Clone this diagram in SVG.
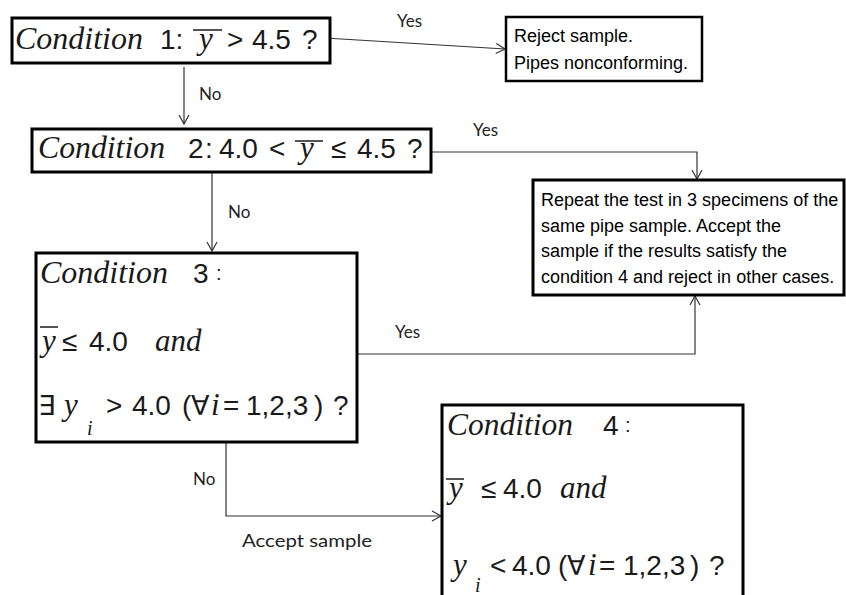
<svg xmlns="http://www.w3.org/2000/svg" width="846" height="595" viewBox="0 0 846 595">
<defs>
<style>
.box{fill:#fff;stroke:#000;stroke-width:3}
.ser{font-family:"Liberation Serif","DejaVu Serif",serif;font-style:italic;font-size:31px;fill:#1a1a1a}
.num{font-family:"Liberation Sans",Arial,sans-serif;font-size:28px;fill:#1a1a1a}
.sym{font-family:"DejaVu Sans","Liberation Sans",sans-serif;font-size:27px;fill:#1a1a1a}
.sub{font-family:"Liberation Serif",serif;font-style:italic;font-size:20px;fill:#1a1a1a}
.col{font-family:"Liberation Sans",sans-serif;font-size:20px;fill:#1a1a1a}
.txt{font-family:"Liberation Sans",Arial,sans-serif;font-size:18px;fill:#000}
.lbl{font-family:Lato,"Open Sans",sans-serif;font-size:17px;fill:#222}
.bar{stroke:#1a1a1a;stroke-width:1.5}
.con{fill:none;stroke:#333;stroke-width:1.2}
</style>
<marker id="arr" markerWidth="12" markerHeight="12" refX="10" refY="6" orient="auto" markerUnits="userSpaceOnUse">
<path d="M1,1 L10,6 L1,11" fill="none" stroke="#333" stroke-width="1.2"/>
</marker>
</defs>
<rect width="846" height="595" fill="#fff"/>

<g id="connectors">
<path class="con" d="M325,38 L505,49" marker-end="url(#arr)"/>
<text class="lbl" x="397" y="27">Yes</text>
<path class="con" d="M184,67 L184,124" marker-end="url(#arr)"/>
<text class="lbl" x="199" y="100">No</text>
<path class="con" d="M431,152 L697,152 L697,179" marker-end="url(#arr)"/>
<text class="lbl" x="473" y="136">Yes</text>
<path class="con" d="M212,172 L212,251" marker-end="url(#arr)"/>
<text class="lbl" x="228" y="218">No</text>
<path class="con" d="M357,354 L695,354 L695,296" marker-end="url(#arr)"/>
<text class="lbl" x="395" y="338">Yes</text>
<path class="con" d="M226,438 L226,516 L441,516" marker-end="url(#arr)"/>
<text class="lbl" x="193" y="485">No</text>
<text class="lbl" x="242" y="547" textLength="130" lengthAdjust="spacingAndGlyphs">Accept sample</text>
</g>

<g id="cond1">
<rect class="box" x="12" y="18" width="318" height="45"/>
<text class="ser" x="15" y="49" textLength="128" lengthAdjust="spacingAndGlyphs">Condition</text>
<text class="num" x="160" y="49">1:</text>
<text class="ser" x="199" y="49">y</text>
<line class="bar" x1="193" y1="30" x2="222" y2="30"/>
<text class="num" x="227" y="49">&gt;</text>
<text class="num" x="252" y="49">4.5</text>
<text class="num" x="302" y="49">?</text>
</g>

<g id="reject">
<rect x="506" y="17" width="196" height="64" fill="#fff" stroke="#000" stroke-width="2.5"/>
<text class="txt" x="514" y="42">Reject sample.</text>
<text class="txt" x="514" y="69">Pipes nonconforming.</text>
</g>

<g id="cond2">
<rect class="box" x="32" y="129" width="399" height="43"/>
<text class="ser" x="38" y="158" textLength="127" lengthAdjust="spacingAndGlyphs">Condition</text>
<text class="num" x="188" y="158">2</text>
<text class="num" x="205" y="158">:</text>
<text class="num" x="219" y="158">4.0</text>
<text class="num" x="269" y="158">&lt;</text>
<text class="ser" x="300" y="158">y</text>
<line class="bar" x1="295" y1="141" x2="323" y2="141"/>
<text class="num" x="331" y="158">≤</text>
<text class="num" x="357" y="158">4.5</text>
<text class="num" x="407" y="158">?</text>
</g>

<g id="repeat">
<rect class="box" x="533" y="180" width="311" height="115"/>
<text class="txt" x="541" y="206">Repeat the test in 3 specimens of the</text>
<text class="txt" x="541" y="232">same pipe sample. Accept the</text>
<text class="txt" x="541" y="257">sample if the results satisfy the</text>
<text class="txt" x="541" y="283">condition 4 and reject in other cases.</text>
</g>

<g id="cond3">
<rect class="box" x="36" y="253" width="321" height="189"/>
<text class="ser" x="40" y="283" textLength="128" lengthAdjust="spacingAndGlyphs">Condition</text>
<text class="num" x="193" y="283">3</text>
<text class="col" x="216" y="280">:</text>
<text class="ser" x="42" y="351">y</text>
<line class="bar" x1="40" y1="327" x2="58" y2="327"/>
<text class="num" x="62" y="351">≤</text>
<text class="num" x="89" y="351">4.0</text>
<text class="ser" x="155" y="351">and</text>
<text class="sym" x="38" y="415">∃</text>
<text class="ser" x="64" y="415">y</text>
<text class="sub" x="87" y="435">i</text>
<text class="num" x="106" y="415">&gt;</text>
<text class="num" x="132" y="415">4.0</text>
<text class="num" x="182" y="415">(</text>
<text class="sym" x="191" y="415">∀</text>
<text class="ser" x="211" y="415">i</text>
<text class="num" x="223" y="415">=</text>
<text class="num" x="246" y="415">1,2,3</text>
<text class="num" x="314" y="415">)</text>
<text class="num" x="333" y="415">?</text>
</g>

<g id="cond4">
<rect class="box" x="442" y="405" width="301" height="200"/>
<text class="ser" x="447" y="435" textLength="126" lengthAdjust="spacingAndGlyphs">Condition</text>
<text class="num" x="603" y="435">4</text>
<text class="col" x="625" y="432">:</text>
<text class="ser" x="449" y="498">y</text>
<line class="bar" x1="446" y1="479" x2="464" y2="479"/>
<text class="num" x="481" y="498">≤</text>
<text class="num" x="503" y="498">4.0</text>
<text class="ser" x="560" y="498">and</text>
<text class="ser" x="453" y="575">y</text>
<text class="sub" x="475" y="592">i</text>
<text class="num" x="490" y="575">&lt;</text>
<text class="num" x="512" y="575">4.0</text>
<text class="num" x="558" y="575">(</text>
<text class="sym" x="567" y="575">∀</text>
<text class="ser" x="588" y="575">i</text>
<text class="num" x="599" y="575">=</text>
<text class="num" x="623" y="575">1,2,3</text>
<text class="num" x="690" y="575">)</text>
<text class="num" x="709" y="575">?</text>
</g>
</svg>
